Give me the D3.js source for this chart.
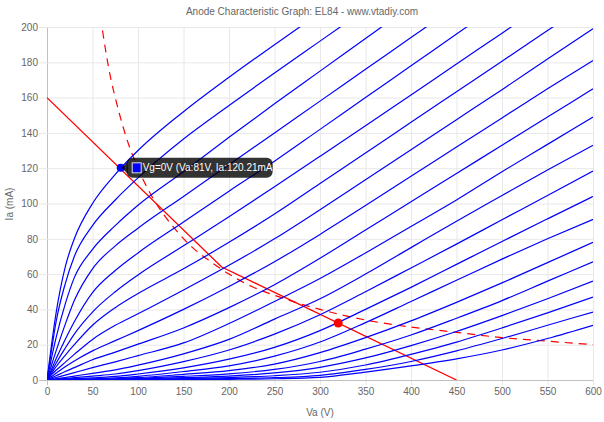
<!DOCTYPE html>
<html>
<head>
<meta charset="utf-8">
<script src="https://cdn.jsdelivr.net/npm/d3@7"></script>
<style>
html, body { margin: 0; padding: 0; background: #fff; }
text { font-family: "Liberation Sans", Arial, sans-serif; }
</style>
</head>
<body>
<div id="chart-area"></div>
<script>
var xTicks = [0, 50, 100, 150, 200, 250, 300, 350, 400, 450, 500, 550, 600];
var yTicks = [0, 20, 40, 60, 80, 100, 120, 140, 160, 180, 200];

// anode volts shared by all grid curves
var vaGrid = [0, 5, 10, 20, 30, 50, 75, 100, 150, 200, 250, 300, 350, 400, 450, 500, 550, 600];

// Ia (mA), one row per grid voltage, Vg = 0V first
var iaCurves = [
    [0, 20, 38, 64, 80, 100, 116.5, 130, 152, 171.5, 190, 208, 226, 244, 262, 280, 298, 316],
    [0, 17, 33, 54.5, 70, 87.5, 102, 114.5, 136.5, 155.5, 174, 192, 210, 228, 246, 264, 282, 300],
    [0, 12.5, 24, 43, 58, 74, 87.5, 99, 118, 137.5, 156.5, 175, 193.5, 212, 230, 248, 266, 284],
    [0, 8.5, 16.5, 31.5, 45, 63, 76, 86, 104, 122, 140, 158, 176, 194, 212, 230, 248, 266],
    [0, 6, 12, 23, 33, 49.5, 62, 72, 89.5, 107, 124, 142, 160, 178, 196, 214, 232, 250],
    [0, 4.8, 9.5, 18, 26, 38.5, 50, 59.5, 76, 92.5, 109.5, 126.7, 144, 161.5, 179, 196.5, 214, 231.5],
    [0, 3.8, 7.5, 14, 20, 31, 41, 49, 63, 78, 94, 111.3, 128.6, 146, 163.3, 180.6, 198, 215],
    [0, 3, 5.5, 10, 14.5, 23, 31, 37.5, 51, 65, 80, 96.5, 113.5, 130.5, 147.5, 164.5, 181.8, 199],
    [0, 2, 3.8, 7.5, 10.8, 16.5, 22.3, 28, 40, 53, 67, 82.5, 98.8, 115.5, 132, 148.5, 165, 181],
    [0, 1.2, 2.4, 4.8, 7, 11.5, 15.8, 20.3, 29.5, 41, 54, 69, 85, 101, 117, 133, 149, 165],
    [0, 0.7, 1.4, 2.8, 4.2, 7, 10.3, 13.8, 21, 32, 44.5, 57.5, 72, 87, 102, 118, 133.5, 149],
    [0, 0.35, 0.7, 1.4, 2.2, 3.8, 5.7, 8.4, 14.8, 23, 34.5, 46, 60, 75, 90, 104.5, 119, 133],
    [0, 0.2, 0.4, 0.9, 1.3, 2.2, 3.4, 5.3, 10.4, 17, 26, 37, 50, 63.5, 77, 90.8, 104.5, 118.4],
    [0, 0.12, 0.25, 0.5, 0.75, 1.2, 2, 3.4, 6.9, 11.8, 18.5, 28, 40, 52.5, 65.5, 78.5, 91.3, 104],
    [0, 0.08, 0.15, 0.3, 0.45, 0.7, 1.2, 2.1, 4.8, 8, 13.5, 21.5, 32.5, 44.5, 56.5, 68.5, 80, 91],
    [0, 0.05, 0.1, 0.2, 0.3, 0.4, 0.7, 1.3, 3.2, 5.3, 9, 15.5, 24, 33.5, 44, 55, 66.5, 78],
    [0, 0.04, 0.08, 0.15, 0.2, 0.3, 0.5, 0.9, 2.1, 3.5, 6, 10.5, 17.5, 25.5, 35, 45, 56, 67],
    [0, 0.03, 0.06, 0.1, 0.15, 0.2, 0.35, 0.6, 1.3, 2.2, 4, 7.2, 12.5, 19.5, 27.5, 36.5, 46, 56],
    [0, 0.02, 0.04, 0.07, 0.1, 0.15, 0.25, 0.4, 0.8, 1.4, 2.4, 4.4, 8.5, 14.5, 21.5, 29.5, 38, 47],
    [0, 0.01, 0.02, 0.04, 0.06, 0.1, 0.15, 0.25, 0.5, 0.8, 1.3, 2.6, 6, 10.5, 16.5, 23.5, 31, 38.5],
    [0, 0.01, 0.01, 0.02, 0.03, 0.05, 0.08, 0.12, 0.25, 0.4, 0.7, 1.5, 4.5, 8, 12, 17, 23.5, 31]
];

// load line
var loadVa = [0, 192, 450];
var loadIa = [160, 64, 0];

// max dissipation line
var dissVa = [61, 65, 70, 75, 80, 90, 100, 110, 120, 140, 160, 180, 200, 225, 250, 300, 350, 400, 450, 500, 550, 600];
var dissIa = [198, 185, 171, 160, 150, 133, 120, 109, 100, 86, 75, 67, 60, 53, 48, 40, 34, 30, 27, 24, 22, 20];

var hoverVa = 81, hoverIa = 120.21;
var quiescentVa = 320, quiescentIa = 32.3;
var hoverText = "Vg=0V (Va:81V, Ia:120.21mA)";

var width = 604, height = 422;
var left = 47, top_ = 27, plotW = 546, plotH = 353;

var svg = d3.select("#chart-area").append("svg")
    .attr("width", width)
    .attr("height", height)
    .style("display", "block");

var x = d3.scaleLinear().domain([0, 600]).range([left, left + plotW]);
var y = d3.scaleLinear().domain([0, 200]).range([top_ + plotH, top_]);

svg.append("clipPath").attr("id", "plot")
    .append("rect")
    .attr("x", left).attr("y", top_)
    .attr("width", plotW).attr("height", plotH);

var xAxis = svg.append("g")
    .attr("transform", "translate(0," + (top_ + plotH) + ")")
    .call(d3.axisBottom(x).tickValues(xTicks).tickSize(-plotH).tickPadding(8));
var yAxis = svg.append("g")
    .attr("transform", "translate(" + left + ",0)")
    .call(d3.axisLeft(y).tickValues(yTicks).tickSize(-plotW).tickPadding(9));

xAxis.selectAll("line").attr("y1", 5);
yAxis.selectAll("line").attr("x1", -8);
[xAxis, yAxis].forEach(function (a) {
    a.select(".domain").remove();
    a.selectAll("line").attr("stroke", "#e8e8e8");
    a.selectAll("text").attr("fill", "#666").attr("font-size", 10);
});
xAxis.selectAll(".tick").filter(function (d) { return d === 0; }).select("line").attr("stroke", "#c0c0c0");
yAxis.selectAll(".tick").filter(function (d) { return d === 0; }).select("line").attr("stroke", "#c0c0c0");

svg.append("text")
    .attr("x", 302).attr("y", 15)
    .attr("text-anchor", "middle")
    .attr("font-size", 10)
    .attr("fill", "#666")
    .text("Anode Characteristic Graph: EL84 - www.vtadiy.com");
svg.append("text")
    .attr("x", 320).attr("y", 416)
    .attr("text-anchor", "middle")
    .attr("font-size", 10)
    .attr("fill", "#666")
    .text("Va (V)");
svg.append("text")
    .attr("transform", "translate(13,204) rotate(-90)")
    .attr("text-anchor", "middle")
    .attr("font-size", 10)
    .attr("fill", "#666")
    .text("Ia (mA)");

var plot = svg.append("g").attr("clip-path", "url(#plot)");

var straight = d3.line()
    .x(function (d) { return x(d[0]); })
    .y(function (d) { return y(d[1]); });
var smooth = d3.line()
    .x(function (d) { return x(d[0]); })
    .y(function (d) { return y(d[1]); })
    .curve(d3.curveMonotoneX);

plot.append("path")
    .datum(d3.zip(dissVa, dissIa))
    .attr("d", smooth)
    .attr("fill", "none")
    .attr("stroke", "#f00")
    .attr("stroke-width", 1.2)
    .attr("stroke-dasharray", "8,6");

plot.append("path")
    .datum(d3.zip(loadVa, loadIa))
    .attr("d", straight)
    .attr("fill", "none")
    .attr("stroke", "#f00")
    .attr("stroke-width", 1.3);

svg.append("circle")
    .attr("cx", x(quiescentVa)).attr("cy", y(quiescentIa))
    .attr("r", 4.5)
    .attr("fill", "#f00");

plot.selectAll(".curve")
    .data(iaCurves)
    .enter()
    .append("path")
    .attr("class", "curve")
    .attr("d", function (d) { return smooth(d3.zip(vaGrid, d)); })
    .attr("fill", "none")
    .attr("stroke", "#00f")
    .attr("stroke-width", 1.2);

// hover point and tooltip
var hx = x(hoverVa), hy = y(hoverIa);

svg.append("circle")
    .attr("cx", hx).attr("cy", hy)
    .attr("r", 4)
    .attr("fill", "#00f");

svg.append("path")
    .attr("d", "M" + (hx + 1) + "," + hy + "L" + (hx + 7) + "," + (hy - 6) + "V" + (hy + 6) + "Z")
    .attr("fill", "rgba(0,0,0,0.8)");
svg.append("rect")
    .attr("x", hx + 6).attr("y", hy - 10)
    .attr("width", 146).attr("height", 20)
    .attr("rx", 6)
    .attr("fill", "rgba(0,0,0,0.8)");
svg.append("rect")
    .attr("x", hx + 11.5).attr("y", hy - 5)
    .attr("width", 9).attr("height", 10)
    .attr("fill", "#00f")
    .attr("stroke", "#ddd")
    .attr("stroke-width", 1);
svg.append("text")
    .attr("x", hx + 22).attr("y", hy + 3.5)
    .attr("font-size", 10)
    .attr("fill", "#fff")
    .text(hoverText);
</script>
</body>
</html>
